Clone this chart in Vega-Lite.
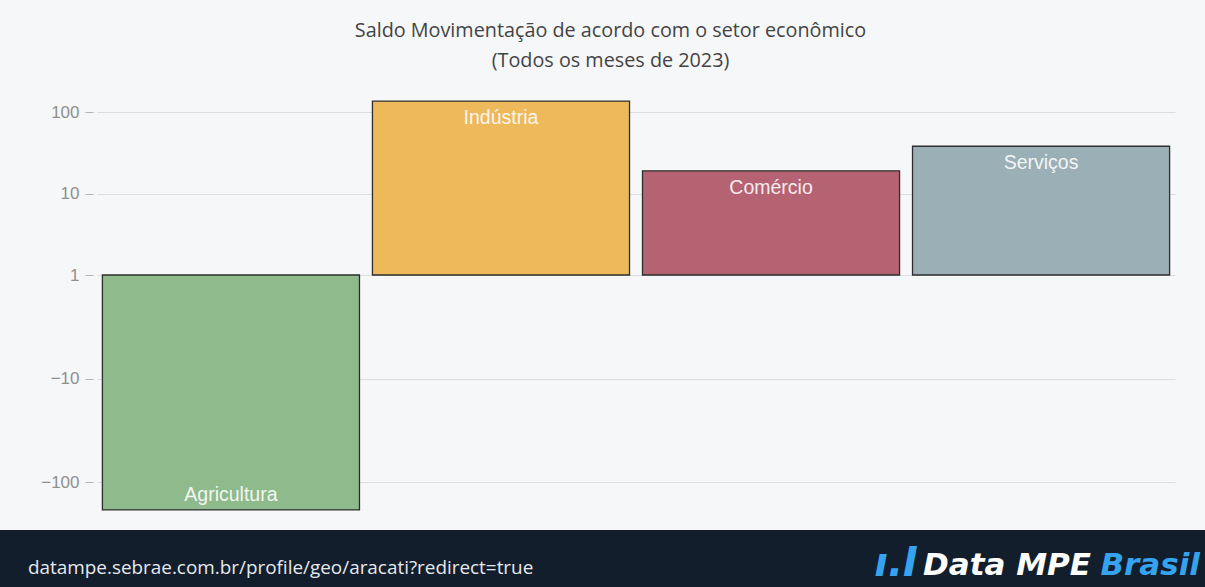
{
  "$schema": "https://vega.github.io/schema/vega-lite/v6.json",
  "padding": {"top": 21, "left": 0, "right": 0, "bottom": 0},
  "background": "#f6f7f9",
  "spacing": 10,
  "title": {
    "text": ["Saldo Movimentação de acordo com o setor econômico", "(Todos os meses de 2023)"],
    "font": "Open Sans",
    "fontSize": 19.8,
    "fontWeight": "normal",
    "color": "#444444",
    "lineHeight": 30,
    "offset": 19,
    "anchor": "middle",
    "dx": 8
  },
  "vconcat": [
    {
      "width": 1078,
      "height": 430,
      "data": {
        "values": [
          {"setor": "Agricultura", "v": -186},
          {"setor": "Indústria", "v": 136},
          {"setor": "Comércio", "v": 19},
          {"setor": "Serviços", "v": 38}
        ]
      },
      "transform": [
        {"calculate": "datum.v > 0 ? log(datum.v) / LN10 : -1.27 * log(-datum.v) / LN10", "as": "t"}
      ],
      "encoding": {
        "x": {
          "field": "setor",
          "type": "nominal",
          "sort": ["Agricultura", "Indústria", "Comércio", "Serviços"],
          "scale": {"paddingInner": 0.048, "paddingOuter": 0.02},
          "axis": null
        },
        "y": {
          "field": "t",
          "type": "quantitative",
          "scale": {"domain": [-3.006, 2.27], "nice": false, "zero": false},
          "axis": {
            "values": [2, 1, 0, -1.27, -2.54],
            "labelExpr": "datum.value == 2 ? '100' : datum.value == 1 ? '10' : datum.value == 0 ? '1' : datum.value < -2 ? '−100' : '−10'",
            "title": null,
            "domain": false,
            "grid": true,
            "gridColor": "#dcdde0",
            "gridWidth": 1,
            "ticks": true,
            "tickColor": "#b5b5b5",
            "tickSize": 8,
            "offset": 4,
            "labelPadding": 6,
            "labelFont": "Liberation Sans",
            "labelFontSize": 17,
            "labelColor": "#8f8f8f",
            "minExtent": 93
          }
        }
      },
      "layer": [
        {
          "mark": {"type": "bar", "stroke": "#2e2e2e", "strokeWidth": 1.3},
          "encoding": {
            "y2": {"datum": 0},
            "color": {
              "field": "setor",
              "type": "nominal",
              "scale": {
                "domain": ["Agricultura", "Indústria", "Comércio", "Serviços"],
                "range": ["#8eba8c", "#edb95b", "#b56373", "#9bafb6"]
              },
              "legend": null
            }
          }
        },
        {
          "transform": [{"filter": "datum.v > 0"}],
          "mark": {"type": "text", "baseline": "middle", "dy": 17, "font": "Liberation Sans", "fontSize": 19.5, "color": "#ffffff", "opacity": 0.88},
          "encoding": {"text": {"field": "setor"}}
        },
        {
          "transform": [{"filter": "datum.v < 0"}],
          "mark": {"type": "text", "baseline": "middle", "dy": -15, "font": "Liberation Sans", "fontSize": 19.5, "color": "#ffffff", "opacity": 0.88},
          "encoding": {"text": {"field": "setor"}}
        }
      ]
    },
    {
      "width": 1108,
      "height": 57,
      "data": {
        "values": [
          {"texto": "datampe.sebrae.com.br/profile/geo/aracati?redirect=true", "parte": "url"},
          {"texto": "ı.I", "parte": "icone"},
          {"texto": "Data MPE", "parte": "data"},
          {"texto": "Brasil", "parte": "brasil"}
        ]
      },
      "layer": [
        {
          "transform": [{"filter": "datum.parte == 'url'"}],
          "mark": {"type": "rect", "x": -97, "x2": 1108, "y": -1, "y2": 57, "color": "#121e2b"},
          "encoding": {}
        },
        {
          "transform": [{"filter": "datum.parte == 'url'"}],
          "mark": {"type": "rule", "x": -97, "x2": 1108, "y": -2, "y2": -2, "color": "#b4bcc6", "strokeWidth": 1.5},
          "encoding": {}
        },
        {
          "transform": [{"filter": "datum.parte == 'url'"}],
          "mark": {"type": "text", "align": "left", "baseline": "alphabetic", "x": -69, "y": 43, "font": "Open Sans", "fontSize": 18.9, "color": "#e6e9ed"},
          "encoding": {"text": {"field": "texto"}}
        },
        {
          "transform": [{"filter": "datum.parte == 'icone'"}],
          "mark": {"type": "text", "align": "right", "baseline": "alphabetic", "x": 821, "y": 45, "font": "DejaVu Sans", "fontWeight": "bold", "fontStyle": "italic", "fontSize": 40, "color": "#35a3ee"},
          "encoding": {"text": {"field": "texto"}}
        },
        {
          "transform": [{"filter": "datum.parte == 'data'"}],
          "mark": {"type": "text", "align": "left", "baseline": "alphabetic", "x": 826, "y": 44, "font": "DejaVu Sans", "fontWeight": "bold", "fontStyle": "italic", "fontSize": 31, "color": "#ffffff"},
          "encoding": {"text": {"field": "texto"}}
        },
        {
          "transform": [{"filter": "datum.parte == 'brasil'"}],
          "mark": {"type": "text", "align": "right", "baseline": "alphabetic", "x": 1103, "y": 44, "font": "DejaVu Sans", "fontWeight": "bold", "fontStyle": "italic", "fontSize": 31, "color": "#35a3ee"},
          "encoding": {"text": {"field": "texto"}}
        }
      ]
    }
  ],
  "config": {"view": {"stroke": null}}
}
